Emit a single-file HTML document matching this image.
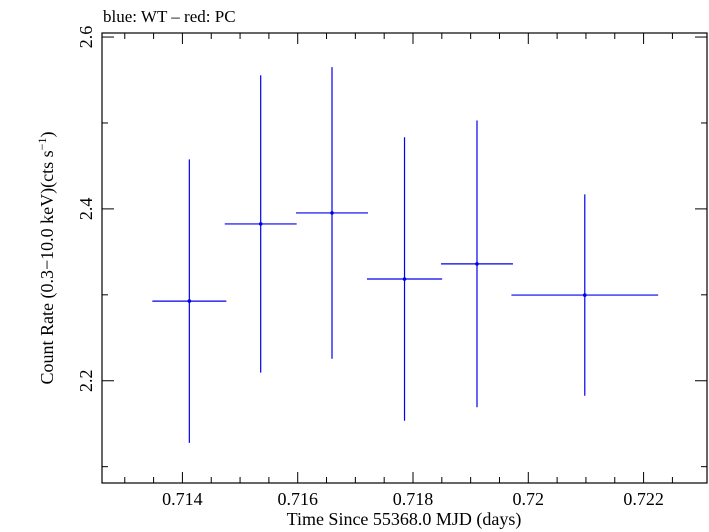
<!DOCTYPE html>
<html><head><meta charset="utf-8"><style>
body{margin:0;background:#fff;}
svg{display:block;font-family:"Liberation Serif",serif;}
</style></head><body>
<svg id="chart" width="709" height="532" viewBox="0 0 709 532">
<text x="103" y="22" font-size="17">blue: WT – red: PC</text>
<rect x="102" y="33" width="605" height="450" fill="none" stroke="#000" stroke-width="1.2"/>
<g id="ticks"></g>
<g id="marks"></g>
<text x="404" y="525" font-size="18" text-anchor="middle">Time Since 55368.0 MJD (days)</text>
<text transform="translate(53,258) rotate(-90)" font-size="18" text-anchor="middle">Count Rate (0.3−10.0 keV)(cts s<tspan font-size="12" dy="-7">−1</tspan><tspan dy="7">)</tspan></text>
</svg>
<script>
const times=[0.714120,0.715358,0.716595,0.717853,0.719110,0.720980];
const timeErr=[0.000642,0.000624,0.000624,0.000652,0.000624,0.001273];
const rates=[2.2927,2.3825,2.3953,2.3184,2.336,2.2997];
const rateErr=[0.165,0.173,0.1697,0.165,0.1668,0.1172];
const xTicks=[0.714,0.716,0.718,0.72,0.722];
const xTickLabels=["0.714","0.716","0.718","0.72","0.722"];
const yTicks=[2.2,2.4,2.6];
const yTickLabels=["2.2","2.4","2.6"];
const L=102,R=707,T=33,B=483;
const x0=0.712605,x1=0.723100,y0=2.081,y1=2.6047;
const sx=v=>L+(v-x0)/(x1-x0)*(R-L);
const sy=v=>B-(v-y0)/(y1-y0)*(B-T);
const NS="http://www.w3.org/2000/svg";
const tg=document.getElementById('ticks'),mg=document.getElementById('marks');
function ln(g,a,b,c,d,col,w){const e=document.createElementNS(NS,'line');e.setAttribute('x1',a);e.setAttribute('y1',b);e.setAttribute('x2',c);e.setAttribute('y2',d);e.setAttribute('stroke',col);e.setAttribute('stroke-width',w);g.appendChild(e);return e;}
for(let k=1;k<=20;k++){const v=0.7125+k*0.0005;if(v>x1)break;const X=sx(v);const m=Math.round(v*2000);const major=(m%4)===0;const len=major?11:6;
const a=ln(tg,X,B,X,B-len,'#000',1);


const b=ln(tg,X,T,X,T+len,'#000',1);

}
for(let v=2.1;v<=2.61;v+=0.1){const Y=sy(v);const major=Math.abs(Math.round(v*10)%2)===0;const len=major?12:6;
const a=ln(tg,L,Y,L+len,Y,'#000',1);


const b=ln(tg,R,Y,R-len,Y,'#000',1);

}
xTicks.forEach((v,i)=>{const t=document.createElementNS(NS,'text');t.setAttribute('x',sx(v));t.setAttribute('y',505);t.setAttribute('font-size','18');t.setAttribute('text-anchor','middle');t.textContent=xTickLabels[i];


tg.appendChild(t);});
yTicks.forEach((v,i)=>{const t=document.createElementNS(NS,'text');t.setAttribute('transform','translate(92,'+sy(v)+') rotate(-90)');t.setAttribute('font-size','18');t.setAttribute('text-anchor','middle');t.textContent=yTickLabels[i];


tg.appendChild(t);});
times.forEach((t,i)=>{const g=document.createElementNS(NS,'g');


ln(g,sx(t-timeErr[i]),sy(rates[i]),sx(t+timeErr[i]),sy(rates[i]),'#0000ee',1.2);
ln(g,sx(t),sy(rates[i]-rateErr[i]),sx(t),sy(rates[i]+rateErr[i]),'#0000ee',1.2);
const c=document.createElementNS(NS,'circle');c.setAttribute('cx',sx(t));c.setAttribute('cy',sy(rates[i]));c.setAttribute('r',1.8);c.setAttribute('fill','#0000ee');g.appendChild(c);
mg.appendChild(g);});
</script>
</body></html>
